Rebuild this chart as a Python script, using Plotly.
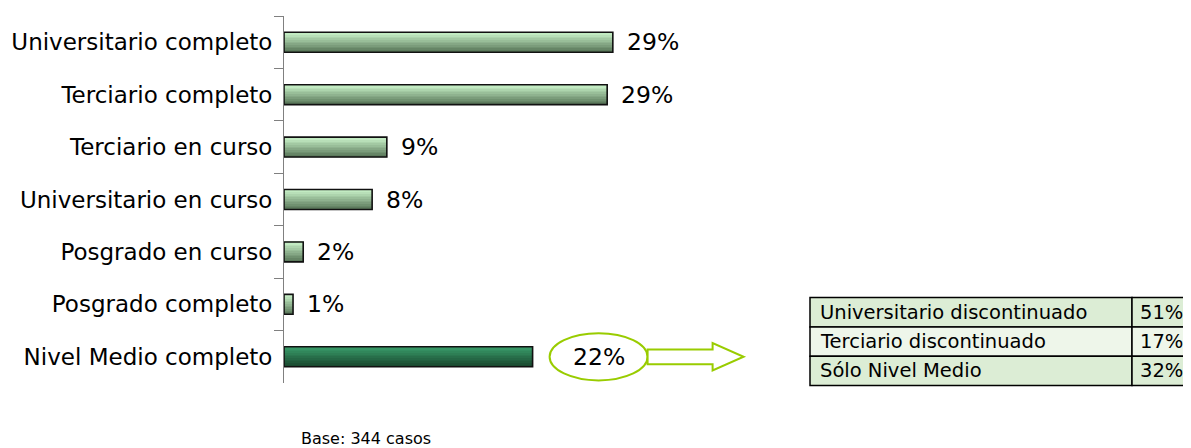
import plotly.graph_objects as go

categories = ["Universitario completo", "Terciario completo", "Terciario en curso",
              "Universitario en curso", "Posgrado en curso", "Posgrado completo",
              "Nivel Medio completo"]
values = [29.1, 28.6, 9.1, 7.8, 1.7, 0.8, 22.0]
labels = ["29%", "29%", "9%", "8%", "2%", "1%", "22%"]

table_labels = ["Universitario discontinuado", "Terciario discontinuado", "Sólo Nivel Medio"]
table_values = ["51%", "17%", "32%"]
base_note = "Base: 344 casos"

FONT = "DejaVu Sans"
OFF = 8  # page body margin
W, H = 1191 - OFF, 448 - OFF
L, R, T = 284 - OFF, 0, 16 - OFF
B = H - (383.5 - OFF)
PX_PER_PCT = 11.3
plot_w = W - L - R
plot_h = H - T - B
xmax = plot_w / PX_PER_PCT

light_top, light_bot = (204, 246, 204), (92, 122, 92)
dark_top, dark_bot = (58, 158, 108), (25, 72, 46)

def mix(a, b, t):
    return "rgb(%d,%d,%d)" % tuple(round(a[i] + (b[i] - a[i]) * t) for i in range(3))

fig = go.Figure()
bar_w = 0.38
N = 12
for k in range(N):
    t = k / (N - 1)
    cols = [mix(dark_top, dark_bot, t) if c == "Nivel Medio completo" else mix(light_top, light_bot, t)
            for c in categories]
    fig.add_trace(go.Bar(
        y=categories, x=values, orientation="h",
        width=bar_w / N + 0.004, offset=-bar_w / 2 + k * bar_w / N,
        marker=dict(color=cols, line=dict(width=0)),
        hoverinfo="skip", showlegend=False))

fig.add_trace(go.Bar(
    y=categories, x=values, orientation="h", width=bar_w,
    marker=dict(color="rgba(0,0,0,0)", line=dict(color="#111", width=1.6)),
    showlegend=False))

for c, v, lab in zip(categories, values, labels):
    if c == "Nivel Medio completo":
        continue
    fig.add_annotation(x=v, y=c, text=lab, showarrow=False, xanchor="left", xshift=12,
                       font=dict(family=FONT, size=23.5, color="#000"))

# ellipse with 22% label and arrow for Nivel Medio completo
iNM = categories.index("Nivel Medio completo")
vNM = values[iNM]
cx = vNM + 66 / PX_PER_PCT
rx = 49 / PX_PER_PCT
ry = 0.45
green = "#99cc00"
fig.add_shape(type="circle", xref="x", yref="y",
              x0=cx - rx, x1=cx + rx, y0=iNM - ry, y1=iNM + ry,
              line=dict(color=green, width=2), fillcolor="white")
fig.add_annotation(x=cx, y=categories[iNM], text=labels[iNM], showarrow=False,
                   font=dict(family=FONT, size=23.5, color="#000"))
ax0 = cx + rx
ax1 = ax0 + 65 / PX_PER_PCT
ax2 = ax0 + 96 / PX_PER_PCT
hb, hh = 0.14, 0.26
path = (f"M {ax0},{iNM - hb} L {ax1},{iNM - hb} L {ax1},{iNM - hh} L {ax2},{iNM} "
        f"L {ax1},{iNM + hh} L {ax1},{iNM + hb} L {ax0},{iNM + hb} Z")
fig.add_shape(type="path", xref="x", yref="y", path=path,
              line=dict(color=green, width=2), fillcolor="white")

# table on the right (reference page pixels -> paper coords of plot area)
def px(xp):
    return (xp - OFF - L) / plot_w
def py(yp):
    return 1 - (yp - OFF - T) / plot_h

tx0, tx1, tx2 = 810, 1132, 1215
ty0, rh = 298, 29.3
row_fill = ["#dcedd5", "#eef6ea", "#dcedd5"]
for i, (lab, val) in enumerate(zip(table_labels, table_values)):
    y0 = ty0 + i * rh
    y1 = y0 + rh
    for xa, xb in ((tx0, tx1), (tx1, tx2)):
        fig.add_shape(type="rect", xref="paper", yref="paper",
                      x0=px(xa), x1=px(xb), y0=py(y1), y1=py(y0),
                      line=dict(color="#000", width=1.5), fillcolor=row_fill[i], layer="below")
    fig.add_annotation(xref="paper", yref="paper", x=px(tx0 + 8), y=py((y0 + y1) / 2),
                       xanchor="left", yanchor="middle", text=lab, showarrow=False,
                       font=dict(family=FONT, size=19.5, color="#000"))
    fig.add_annotation(xref="paper", yref="paper", x=px(tx1 + 6), y=py((y0 + y1) / 2),
                       xanchor="left", yanchor="middle", text=val, showarrow=False,
                       font=dict(family=FONT, size=19.5, color="#000"))

fig.add_annotation(xref="paper", yref="paper", x=px(366), y=py(439),
                   xanchor="center", yanchor="middle", text=base_note, showarrow=False,
                   font=dict(family=FONT, size=16, color="#000"))

fig.update_layout(
    width=W, height=H, margin=dict(l=L, r=R, t=T, b=B),
    barmode="overlay", plot_bgcolor="white", paper_bgcolor="white",
    showlegend=False,
    xaxis=dict(range=[0, xmax], visible=False, fixedrange=True),
    yaxis=dict(autorange="reversed", showline=True, linecolor="#808080", linewidth=1,
               ticks="outside", tickson="boundaries", ticklen=9, tickcolor="#808080",
               showgrid=False, zeroline=False, automargin=False,
               tickfont=dict(family=FONT, size=23, color="#000"), ticklabelstandoff=6),
)

fig.write_html("out.html")
